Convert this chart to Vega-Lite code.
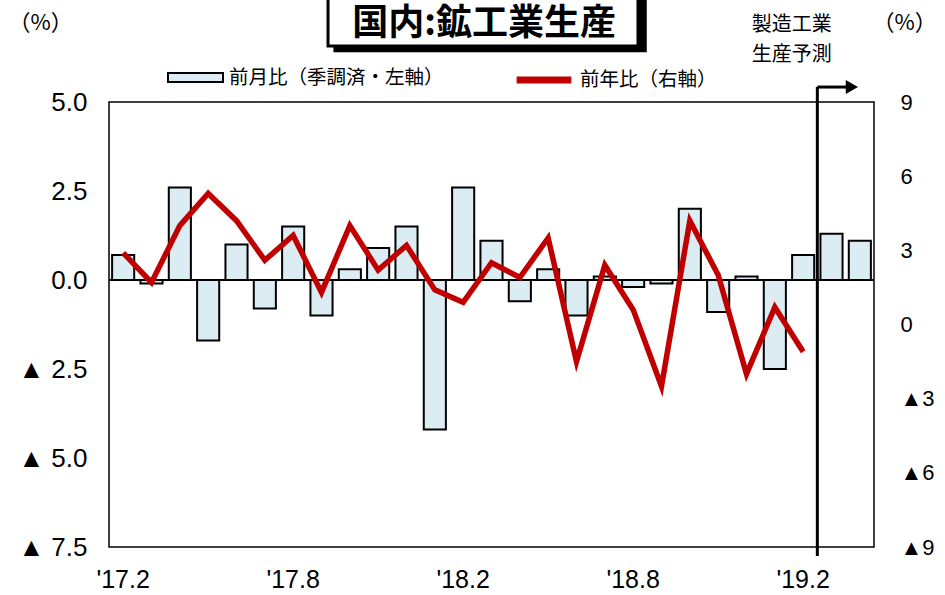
{
  "$schema": "https://vega.github.io/schema/vega-lite/v6.json",
  "width": 765,
  "height": 445,
  "autosize": "none",
  "padding": {"left": 109, "top": 102, "right": 71, "bottom": 48},
  "background": "white",
  "config": {
    "view": {"stroke": "black", "strokeWidth": 1.5},
    "font": "Liberation Sans"
  },
  "datasets": {
    "main": [
      {"month": "'17.2", "mom": 0.7, "yoy": 2.9},
      {"month": "'17.3", "mom": -0.1, "yoy": 1.7},
      {"month": "'17.4", "mom": 2.6, "yoy": 4.0},
      {"month": "'17.5", "mom": -1.7, "yoy": 5.3},
      {"month": "'17.6", "mom": 1.0, "yoy": 4.2},
      {"month": "'17.7", "mom": -0.8, "yoy": 2.6},
      {"month": "'17.8", "mom": 1.5, "yoy": 3.6},
      {"month": "'17.9", "mom": -1.0, "yoy": 1.3},
      {"month": "'17.10", "mom": 0.3, "yoy": 4.0},
      {"month": "'17.11", "mom": 0.9, "yoy": 2.2},
      {"month": "'17.12", "mom": 1.5, "yoy": 3.2},
      {"month": "'18.1", "mom": -4.2, "yoy": 1.4},
      {"month": "'18.2", "mom": 2.6, "yoy": 0.9},
      {"month": "'18.3", "mom": 1.1, "yoy": 2.5},
      {"month": "'18.4", "mom": -0.6, "yoy": 1.9},
      {"month": "'18.5", "mom": 0.3, "yoy": 3.5},
      {"month": "'18.6", "mom": -1.0, "yoy": -1.5},
      {"month": "'18.7", "mom": 0.1, "yoy": 2.4},
      {"month": "'18.8", "mom": -0.2, "yoy": 0.6},
      {"month": "'18.9", "mom": -0.1, "yoy": -2.5},
      {"month": "'18.10", "mom": 2.0, "yoy": 4.2},
      {"month": "'18.11", "mom": -0.9, "yoy": 2.0},
      {"month": "'18.12", "mom": 0.1, "yoy": -2.0},
      {"month": "'19.1", "mom": -2.5, "yoy": 0.7},
      {"month": "'19.2", "mom": 0.7, "yoy": -1.1},
      {"month": "'19.3", "mom": 1.3, "yoy": null},
      {"month": "'19.4", "mom": 1.1, "yoy": null}
    ]
  },
  "data": {"name": "main"},
  "layer": [
    {
      "layer": [
        {
          "mark": {"type": "bar", "width": {"band": 0.78}, "stroke": "black", "strokeWidth": 2},
          "encoding": {
            "x": {
              "field": "month", "type": "ordinal", "sort": null,
              "scale": {
                "domain": ["'17.2","'17.3","'17.4","'17.5","'17.6","'17.7","'17.8","'17.9","'17.10","'17.11","'17.12","'18.1","'18.2","'18.3","'18.4","'18.5","'18.6","'18.7","'18.8","'18.9","'18.10","'18.11","'18.12","'19.1","'19.2","'19.3","'19.4"],
                "paddingInner": 0, "paddingOuter": 0
              },
              "axis": {
                "values": ["'17.2","'17.8","'18.2","'18.8","'19.2"],
                "labelAngle": 0, "ticks": false, "domain": false, "grid": false,
                "labelPadding": 20, "labelFontSize": 25, "labelFont": "Liberation Sans",
                "labelColor": "black", "title": null
              }
            },
            "y": {
              "field": "mom", "type": "quantitative",
              "scale": {"domain": [-7.5, 5], "nice": false, "zero": false},
              "axis": {
                "values": [5, 2.5, 0, -2.5, -5, -7.5],
                "labelExpr": "datum.value < 0 ? '▲ ' + format(-datum.value, '.1f') : format(datum.value, '.1f')",
                "ticks": false, "domain": false, "grid": false,
                "labelPadding": 22, "labelFontSize": 26, "labelFont": "Liberation Sans",
                "labelColor": "black",
                "title": "（%）", "titleAngle": 0, "titleX": -69, "titleY": -80,
                "titleAlign": "center", "titleBaseline": "middle",
                "titleFontSize": 22, "titleFontWeight": "normal", "titleFont": "Noto Sans CJK JP", "titleColor": "black"
              }
            },
            "fill": {
              "datum": "前月比（季調済・左軸）",
              "scale": {"range": ["#dbedf3"]},
              "legend": {
                "orient": "none", "legendX": 58, "legendY": -53, "title": null,
                "symbolType": "M-1,-0.16H1V0.16H-1Z", "symbolSize": 3025,
                "symbolStrokeColor": "black", "symbolStrokeWidth": 2,
                "labelFontSize": 19.5, "labelFont": "Noto Sans CJK JP", "labelColor": "black",
                "labelOffset": 5, "padding": 0, "labelLimit": 500
              }
            }
          }
        },
        {
          "data": {"values": [{}]},
          "mark": {"type": "rule", "color": "black", "strokeWidth": 2},
          "encoding": {"y": {"datum": 0}}
        },
        {
          "data": {"values": [{}]},
          "mark": {"type": "rule", "color": "black", "strokeWidth": 3},
          "encoding": {
            "x": {"datum": "'19.2", "bandPosition": 1},
            "y": {"datum": 5.42},
            "y2": {"datum": -7.75}
          }
        },
        {
          "data": {"values": [{}]},
          "mark": {"type": "rule", "color": "black", "strokeWidth": 3},
          "encoding": {
            "x": {"datum": "'19.2", "bandPosition": 1},
            "x2": {"datum": "'19.4", "bandPosition": 0.1},
            "y": {"datum": 5.42}
          }
        },
        {
          "data": {"values": [{}]},
          "mark": {"type": "point", "shape": "triangle-right", "filled": true, "color": "black", "size": 200, "opacity": 1},
          "encoding": {
            "x": {"datum": "'19.4", "bandPosition": 0.22},
            "y": {"datum": 5.42}
          }
        },
        {
          "data": {"values": [{}]},
          "mark": {"type": "rect", "color": "black"},
          "encoding": {
            "x": {"datum": "'17.9", "bandPosition": 0.92},
            "x2": {"datum": "'18.8", "bandPosition": 0.98},
            "y": {"datum": 9},
            "y2": {"datum": 6.4}
          }
        },
        {
          "data": {"values": [{}]},
          "mark": {"type": "rect", "fill": "white", "stroke": "black", "strokeWidth": 3},
          "encoding": {
            "x": {"datum": "'17.9", "bandPosition": 0.73},
            "x2": {"datum": "'18.8", "bandPosition": 0.67},
            "y": {"datum": 9},
            "y2": {"datum": 6.57}
          }
        },
        {
          "data": {"values": [{}]},
          "mark": {"type": "text", "text": "国内:鉱工業生産", "font": "Noto Sans CJK JP", "fontWeight": "bold", "fontSize": 36, "baseline": "middle", "align": "center", "color": "black"},
          "encoding": {
            "x": {"datum": "'18.3", "bandPosition": 0.24},
            "y": {"datum": 7.18}
          }
        },
        {
          "data": {"values": [{}]},
          "mark": {"type": "text", "text": ["製造工業", "生産予測"], "lineHeight": 30, "font": "Noto Sans CJK JP", "fontSize": 20, "baseline": "middle", "align": "center", "color": "black"},
          "encoding": {
            "x": {"datum": "'19.2", "bandPosition": 0.1},
            "y": {"datum": 7.16}
          }
        }
      ]
    },
    {
      "mark": {"type": "line", "strokeWidth": 5.5},
      "encoding": {
        "x": {"field": "month", "type": "ordinal", "sort": null},
        "y": {
          "field": "yoy", "type": "quantitative",
          "scale": {"domain": [-9, 9], "nice": false, "zero": false},
          "axis": {
            "orient": "right",
            "values": [9, 6, 3, 0, -3, -6, -9],
            "labelExpr": "datum.value < 0 ? '▲' + (-datum.value) : '' + datum.value",
            "ticks": false, "domain": false, "grid": false,
            "labelPadding": 26, "labelFontSize": 22, "labelFont": "Liberation Sans",
            "labelColor": "black",
            "title": "（%）", "titleAngle": 0, "titleX": 30, "titleY": -80,
            "titleAlign": "center", "titleBaseline": "middle",
            "titleFontSize": 22, "titleFontWeight": "normal", "titleFont": "Noto Sans CJK JP", "titleColor": "black"
          }
        },
        "color": {
          "datum": "前年比（右軸）",
          "scale": {"range": ["#c00000"]},
          "legend": {
            "orient": "none", "legendX": 404, "legendY": -53, "title": null,
            "symbolType": "stroke", "symbolSize": 3000, "symbolStrokeWidth": 7,
            "labelFontSize": 19.5, "labelFont": "Noto Sans CJK JP", "labelColor": "black",
            "labelOffset": 5, "padding": 0, "labelLimit": 500
          }
        }
      }
    }
  ],
  "resolve": {"scale": {"y": "independent"}}
}
